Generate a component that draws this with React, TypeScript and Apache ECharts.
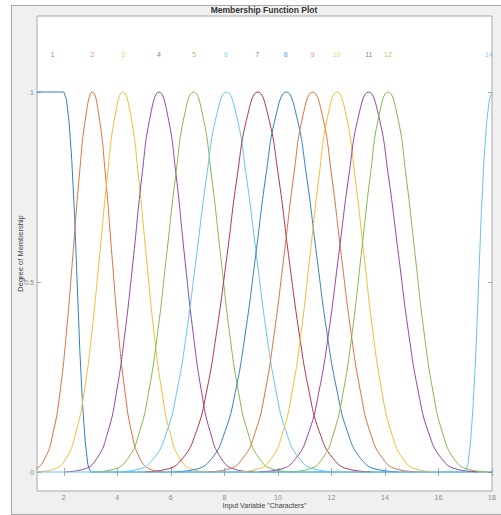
import React, { useEffect, useRef } from "react";
import * as echarts from "echarts";

const xTicks = [2, 4, 6, 8, 10, 12, 14, 16, 18];
const yTicks = [0, 0.5, 1];

const mfNames = ["1", "2", "3", "4", "5", "6", "7", "8", "9", "10", "11", "12", "14"];
const mfColors = ["#2f80c8", "#e0703f", "#f0bc3a", "#9246a2", "#86b845", "#62c6f0", "#b53447",
  "#2f80c8", "#e0703f", "#f0bc3a", "#9246a2", "#86b845", "#62c6f0"];
const labelX = [1.58, 3.06, 4.22, 5.56, 6.87, 8.06, 9.23, 10.29, 11.3, 12.2, 13.4, 14.11, 17.88];
const labelY = 1.1;

const mf1 = [[1, 1], [2, 1], [2.1, 0.98], [2.2, 0.92], [2.3, 0.82], [2.4, 0.68], [2.5, 0.5], [2.6, 0.32], [2.7, 0.18], [2.8, 0.08], [2.9, 0.02], [3, 0], [18, 0]];
const mf2 = [[0.4, 0.0005], [0.88, 0.0064], [1.29, 0.035], [1.61, 0.106], [1.86, 0.21], [2.1, 0.368], [2.34, 0.57], [2.58, 0.779], [2.83, 0.939], [3.07, 1], [3.31, 0.939], [3.56, 0.779], [3.8, 0.57], [4.04, 0.368], [4.29, 0.21], [4.53, 0.106], [4.85, 0.035], [5.26, 0.0064], [5.74, 0.0005]];
const mf3 = [[1.01, 0.0005], [1.59, 0.0064], [2.08, 0.035], [2.46, 0.106], [2.76, 0.21], [3.05, 0.368], [3.34, 0.57], [3.63, 0.779], [3.92, 0.939], [4.21, 1], [4.5, 0.939], [4.79, 0.779], [5.08, 0.57], [5.37, 0.368], [5.67, 0.21], [5.96, 0.106], [6.34, 0.035], [6.83, 0.0064], [7.41, 0.0005]];
const mf4 = [[2.06, 0.0005], [2.7, 0.0064], [3.23, 0.035], [3.65, 0.106], [3.97, 0.21], [4.29, 0.368], [4.61, 0.57], [4.92, 0.779], [5.24, 0.939], [5.56, 1], [5.88, 0.939], [6.2, 0.779], [6.51, 0.57], [6.83, 0.368], [7.15, 0.21], [7.47, 0.106], [7.89, 0.035], [8.42, 0.0064], [9.06, 0.0005]];
const mf5 = [[3.15, 0.0005], [3.83, 0.0064], [4.39, 0.035], [4.83, 0.106], [5.17, 0.21], [5.51, 0.368], [5.84, 0.57], [6.18, 0.779], [6.51, 0.939], [6.85, 1], [7.19, 0.939], [7.52, 0.779], [7.86, 0.57], [8.19, 0.368], [8.53, 0.21], [8.87, 0.106], [9.31, 0.035], [9.87, 0.0064], [10.55, 0.0005]];
const mf6 = [[3.99, 0.0005], [4.73, 0.0064], [5.35, 0.035], [5.85, 0.106], [6.22, 0.21], [6.59, 0.368], [6.96, 0.57], [7.34, 0.779], [7.71, 0.939], [8.08, 1], [8.45, 0.939], [8.82, 0.779], [9.2, 0.57], [9.57, 0.368], [9.94, 0.21], [10.31, 0.106], [10.81, 0.035], [11.43, 0.0064], [12.17, 0.0005]];
const mf7 = [[5.03, 0.0005], [5.79, 0.0064], [6.43, 0.035], [6.95, 0.106], [7.33, 0.21], [7.71, 0.368], [8.1, 0.57], [8.48, 0.779], [8.87, 0.939], [9.25, 1], [9.63, 0.939], [10.02, 0.779], [10.4, 0.57], [10.79, 0.368], [11.17, 0.21], [11.55, 0.106], [12.07, 0.035], [12.71, 0.0064], [13.47, 0.0005]];
const mf8 = [[6.12, 0.0005], [6.88, 0.0064], [7.52, 0.035], [8.02, 0.106], [8.41, 0.21], [8.79, 0.368], [9.17, 0.57], [9.55, 0.779], [9.93, 0.939], [10.31, 1], [10.69, 0.939], [11.07, 0.779], [11.45, 0.57], [11.83, 0.368], [12.22, 0.21], [12.6, 0.106], [13.1, 0.035], [13.74, 0.0064], [14.5, 0.0005]];
const mf9 = [[7.37, 0.0005], [8.09, 0.0064], [8.68, 0.035], [9.16, 0.106], [9.52, 0.21], [9.87, 0.368], [10.23, 0.57], [10.59, 0.779], [10.94, 0.939], [11.3, 1], [11.66, 0.939], [12.01, 0.779], [12.37, 0.57], [12.73, 0.368], [13.09, 0.21], [13.44, 0.106], [13.92, 0.035], [14.51, 0.0064], [15.23, 0.0005]];
const mf10 = [[8.51, 0.0005], [9.19, 0.0064], [9.75, 0.035], [10.19, 0.106], [10.53, 0.21], [10.87, 0.368], [11.2, 0.57], [11.54, 0.779], [11.87, 0.939], [12.21, 1], [12.55, 0.939], [12.88, 0.779], [13.22, 0.57], [13.55, 0.368], [13.89, 0.21], [14.23, 0.106], [14.67, 0.035], [15.23, 0.0064], [15.91, 0.0005]];
const mf11 = [[9.3, 0.0005], [10.04, 0.0064], [10.66, 0.035], [11.16, 0.106], [11.53, 0.21], [11.9, 0.368], [12.27, 0.57], [12.65, 0.779], [13.02, 0.939], [13.39, 1], [13.76, 0.939], [14.13, 0.779], [14.51, 0.57], [14.88, 0.368], [15.25, 0.21], [15.62, 0.106], [16.12, 0.035], [16.74, 0.0064], [17.48, 0.0005]];
const mf12 = [[10.42, 0.0005], [11.1, 0.0064], [11.66, 0.035], [12.1, 0.106], [12.44, 0.21], [12.78, 0.368], [13.11, 0.57], [13.45, 0.779], [13.78, 0.939], [14.12, 1], [14.46, 0.939], [14.79, 0.779], [15.13, 0.57], [15.46, 0.368], [15.8, 0.21], [16.14, 0.106], [16.58, 0.035], [17.14, 0.0064], [17.82, 0.0005]];
const mf14 = [[1, 0], [17, 0], [17.1, 0.02], [17.2, 0.08], [17.3, 0.18], [17.4, 0.32], [17.5, 0.5], [17.6, 0.68], [17.7, 0.82], [17.8, 0.92], [17.9, 0.98], [18, 1]];

const mfData = [mf1, mf2, mf3, mf4, mf5, mf6, mf7, mf8, mf9, mf10, mf11, mf12, mf14];
const smoothFlags = [false, true, true, true, true, true, true, true, true, true, true, true, false];

const FONT = "'Liberation Sans', Arial, sans-serif";
const GRAY = "#a8a8a8";
const TICKTEXT = "#8a8a8a";
const NAMETEXT = "#404040";

export default function App() {
  const ref = useRef<HTMLDivElement>(null);
  useEffect(() => {
    if (!ref.current) return;
    const chart = echarts.init(ref.current, undefined, { renderer: "svg" });
    const lineSeries = mfData.map((d, i) => ({
      type: "line",
      name: mfNames[i],
      data: d,
      smooth: smoothFlags[i],
      showSymbol: false,
      symbol: "none",
      clip: true,
      lineStyle: { width: 1, color: mfColors[i] },
      itemStyle: { color: mfColors[i] },
      emphasis: { disabled: true },
      z: 2 + i,
    }));
    const labelSeries = {
      type: "scatter",
      name: "labels",
      symbolSize: 0,
      silent: true,
      z: 30,
      data: mfNames.map((n, i) => ({
        value: [labelX[i], labelY],
        name: n,
        itemStyle: { color: mfColors[i] },
        label: {
          show: true,
          formatter: n,
          position: [0, 0],
          align: "center",
          verticalAlign: "middle",
          color: mfColors[i],
          textBorderWidth: 0,
          fontSize: 7,
          fontFamily: FONT,
        },
      })),
    };
    const axisCommon = {
      type: "value",
      splitLine: { show: false },
      axisLine: { show: false },
    };
    chart.setOption({
      animation: false,
      graphic: [
        {
          type: "text",
          x: 264,
          y: 10,
          style: {
            text: "Membership Function Plot",
            fontSize: 8.5,
            fontWeight: "bold",
            fontFamily: FONT,
            fill: "#333",
            textAlign: "center",
            textVerticalAlign: "middle",
          },
        },
      ],
      grid: {
        left: 37,
        right: 9,
        top: 16,
        bottom: 24,
        show: true,
        backgroundColor: "#ffffff",
        borderColor: GRAY,
        borderWidth: 1,
      },
      xAxis: [
        {
          ...axisCommon,
          min: 1,
          max: 18,
          position: "bottom",
          name: 'Input Variable "Characters"',
          nameLocation: "middle",
          nameGap: 11,
          nameMoveOverlap: false,
          nameTextStyle: { fontSize: 7, fontFamily: FONT, color: NAMETEXT },
          axisTick: { show: true, inside: true, length: 4, customValues: xTicks, lineStyle: { color: GRAY } },
          axisLabel: { show: true, customValues: xTicks, margin: 3, fontSize: 7, fontFamily: FONT, color: TICKTEXT },
        },
        {
          ...axisCommon,
          min: 1,
          max: 18,
          position: "top",
          axisTick: { show: true, inside: true, length: 4, customValues: xTicks, lineStyle: { color: GRAY } },
          axisLabel: { show: false },
        },
      ],
      yAxis: [
        {
          ...axisCommon,
          min: -0.05,
          max: 1.2,
          position: "left",
          name: "Degree of Membership",
          nameLocation: "middle",
          nameGap: 13,
          nameMoveOverlap: false,
          nameTextStyle: { fontSize: 7.5, fontFamily: FONT, color: NAMETEXT },
          axisTick: { show: true, inside: true, length: 4, customValues: yTicks, lineStyle: { color: GRAY } },
          axisLabel: { show: true, customValues: yTicks, margin: 3, fontSize: 7, fontFamily: FONT, color: TICKTEXT, hideOverlap: false },
        },
        {
          ...axisCommon,
          min: -0.05,
          max: 1.2,
          position: "right",
          axisTick: { show: true, inside: true, length: 4, customValues: yTicks, lineStyle: { color: GRAY } },
          axisLabel: { show: false },
        },
      ],
      series: [...lineSeries, labelSeries],
    });
    return () => chart.dispose();
  }, []);
  return (
    <div style={{ position: "absolute", left: 0, top: 0, width: 501, height: 515, background: "#ffffff" }}>
      <div
        style={{
          position: "absolute",
          left: 11,
          top: 5,
          width: 495,
          height: 508,
          background: "#f0f0f0",
          border: "1px solid " + GRAY,
        }}
      />
      <div ref={ref} style={{ position: "absolute", left: 0, top: 0, width: 501, height: 515 }} />
    </div>
  );
}
